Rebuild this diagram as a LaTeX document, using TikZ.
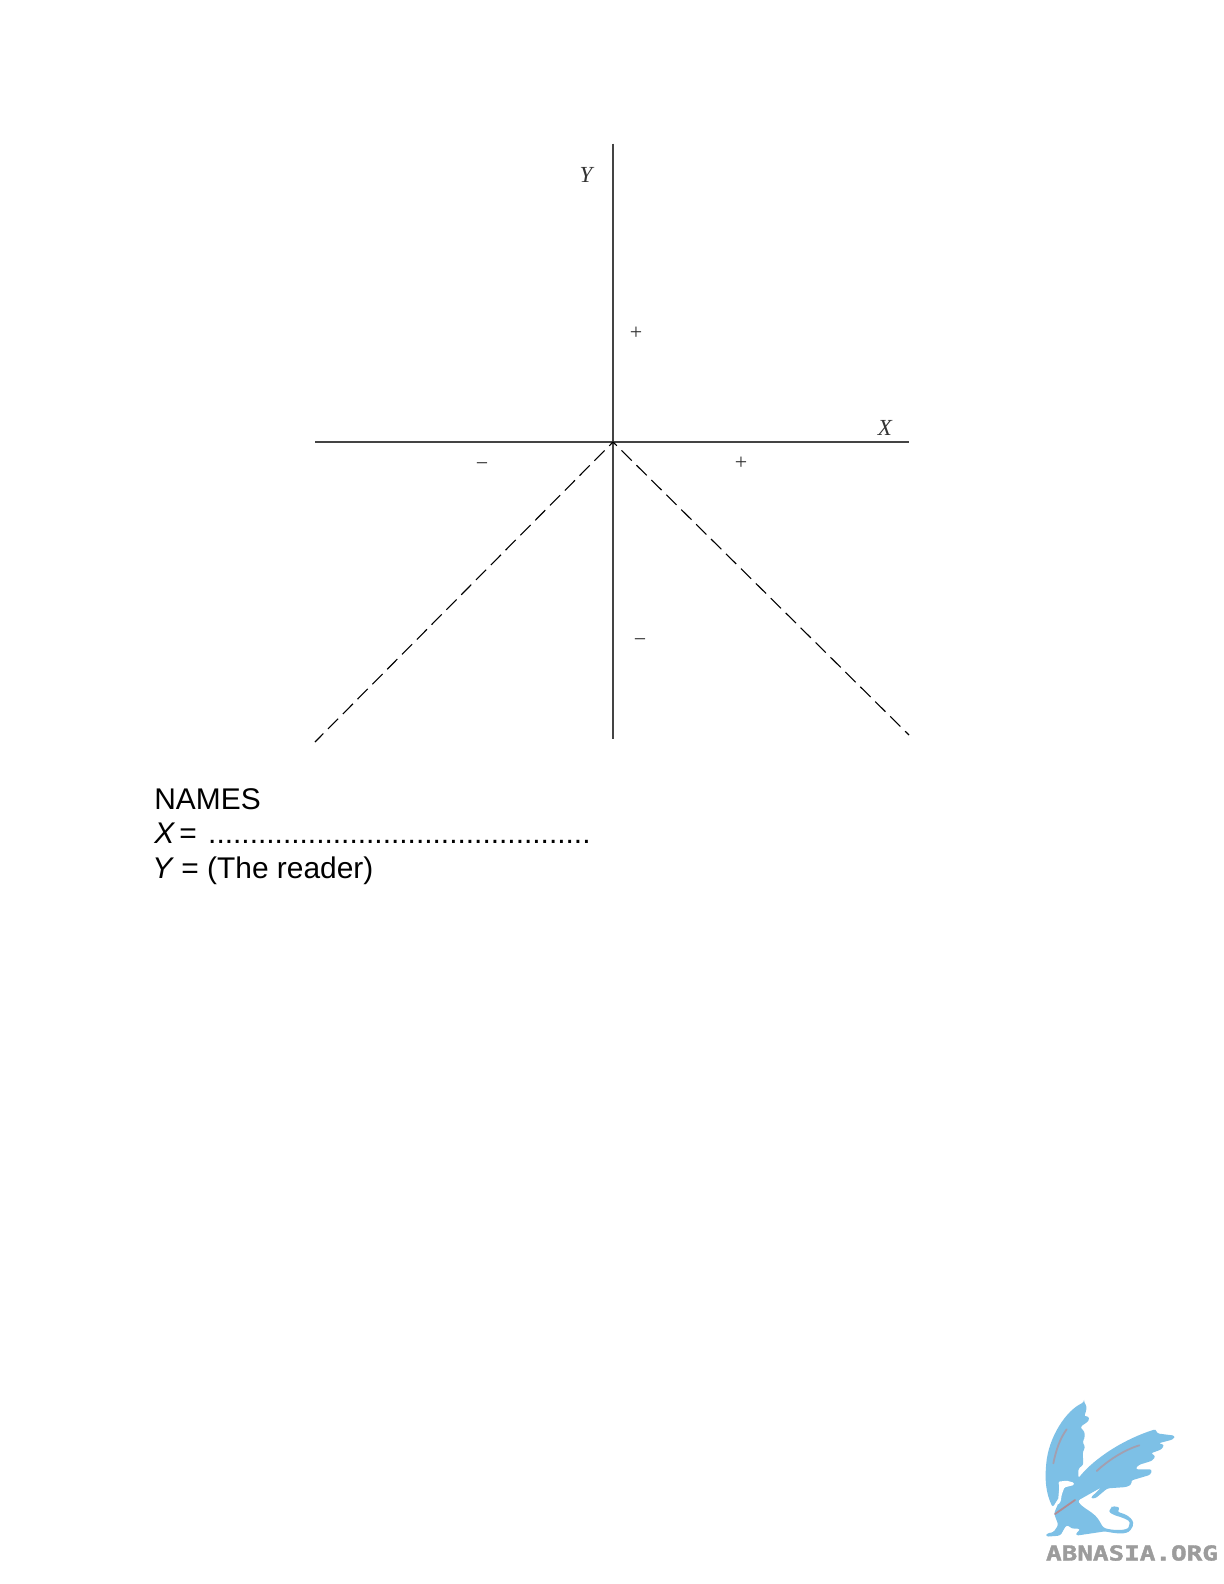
\documentclass[tikz,border=0pt]{standalone}
\usepackage{fontspec}
\setmainfont{Liberation Sans}
\newfontfamily\serifface{Liberation Serif}
\newfontfamily\markface[FakeBold=1.6]{DejaVu Sans Mono Bold}
\definecolor{griffin}{HTML}{7DC0E6}
\definecolor{feather}{HTML}{A39FB0}
\definecolor{featherred}{HTML}{B08C95}
\definecolor{markgrey}{HTML}{9C9C9C}
\definecolor{axisgrey}{HTML}{444444}
\tikzset{
  axisline/.style={draw=axisgrey,line width=0.8pt},
  dashline/.style={draw=black,line width=0.55pt,dash pattern=on 7.2pt off 3.3pt,dash phase=4.5pt},
  axislabel/.style={font=\serifface\itshape\fontsize{11.5}{11.5}\selectfont,text=black!80,inner sep=0pt},
  signlabel/.style={font=\serifface\fontsize{11}{11}\selectfont,text=black!80,inner sep=0pt},
  bodytext/.style={font=\fontsize{14.95}{17}\selectfont,text=black,inner sep=0pt,anchor=base west},
  griffinfill/.style={fill=griffin,draw=none,rounded corners=1.2pt},
  featherline/.style={draw=feather,line width=0.9pt,line cap=round}
}
\begin{document}
\begin{tikzpicture}[x=0.5pt,y=-0.5pt]
\useasboundingbox[fill=white] (0,0) rectangle (1224,1584);
% axes
\coordinate (xl) at (315,442);
\coordinate (xr) at (909,442);
\coordinate (yt) at (613,143.5);
\coordinate (yb) at (613,739);
\coordinate (o) at (613,442);
\coordinate (dl) at (315,742);
\coordinate (dr) at (909,735);
\draw[axisline] (xl) -- (xr);
\draw[axisline] (yt) -- (yb);
\draw[dashline] (o) -- (dl);
\draw[dashline] (o) -- (dr);
% labels
\node[axislabel] (lY) at (586,175) {Y};
\node[axislabel] (lX) at (885,428) {X};
\node[signlabel] (p1) at (636,333) {+};
\node[signlabel] (p2) at (741,463) {+};
\node[signlabel] (m1) at (482,467) {\char"2212};
\node[signlabel] (m2) at (640,643) {\char"2212};
% names
\node[bodytext] (names) at (154,809) {NAMES};
\node[bodytext] (xname) at (154,843) {\textit{X}\kern2pt = \kern1.6pt..............................................};
\node[bodytext] (yname) at (152,878) {\textit{Y}\kern-0.5pt{} = (The reader)};
% griffin logo
\begin{scope}[shift={(1010,1370)},x=0.16667pt,y=-0.16667pt]
\fill[griffinfill] (222,97) .. controls (232,110) and (228,125) .. (222,140)
 -- (236,138) .. controls (238,155) and (222,162) .. (210,172)
 -- (224,185) -- (224,205) -- (217,215) -- (226,232) -- (218,245)
 -- (220,285) -- (205,295) -- (205,325)
 .. controls (240,280) and (320,215) .. (438,177)
 -- (440,190) -- (495,197) -- (490,208) -- (445,220) -- (463,224) -- (455,238) -- (422,250)
 -- (437,258) -- (427,272) -- (385,285) -- (376,298) -- (426,298) -- (422,314) -- (362,332)
 -- (366,342) -- (350,351) -- (292,355) -- (255,386) -- (241,384) -- (274,352)
 -- (203,392) .. controls (215,410) and (235,420) .. (250,432)
 .. controls (265,445) and (272,460) .. (280,473)
 .. controls (310,482) and (352,482) .. (358,465)
 .. controls (360,450) and (335,442) .. (312,435)
 -- (295,425) -- (303,416) -- (306,408) -- (330,412) -- (322,426)
 .. controls (360,435) and (375,455) .. (365,475)
 .. controls (350,495) and (315,490) .. (285,484)
 -- (198,497) -- (200,487) -- (212,478) .. controls (200,475) and (185,478) .. (175,465)
 .. controls (165,470) and (155,490) .. (150,497)
 -- (108,500) -- (110,490) -- (130,487) -- (145,465) -- (132,430) -- (145,400)
 -- (148,380) -- (128,412)
 .. controls (108,370) and (105,330) .. (108,290)
 .. controls (115,200) and (170,120) .. (222,97) -- cycle;
\fill[white,rounded corners=0.6pt] (145,335) -- (170,332) -- (192,338) -- (192,345) -- (172,350) -- (163,352) -- (155,375) -- (152,395) -- (143,405) -- (148,350) -- cycle;
\draw[featherline] (170,178) .. controls (150,205) and (138,240) .. (130,280);
\draw[featherline] (388,226) .. controls (340,240) and (290,275) .. (260,303);
\draw[featherline,draw=featherred] (195,390) -- (135,432);
\end{scope}
\node[font=\markface\fontsize{10.3}{10.3}\selectfont,text=markgrey,inner sep=0pt,xscale=1.26] (mark) at (1132,1553) {ABNASIA.ORG};
\end{tikzpicture}
\end{document}
